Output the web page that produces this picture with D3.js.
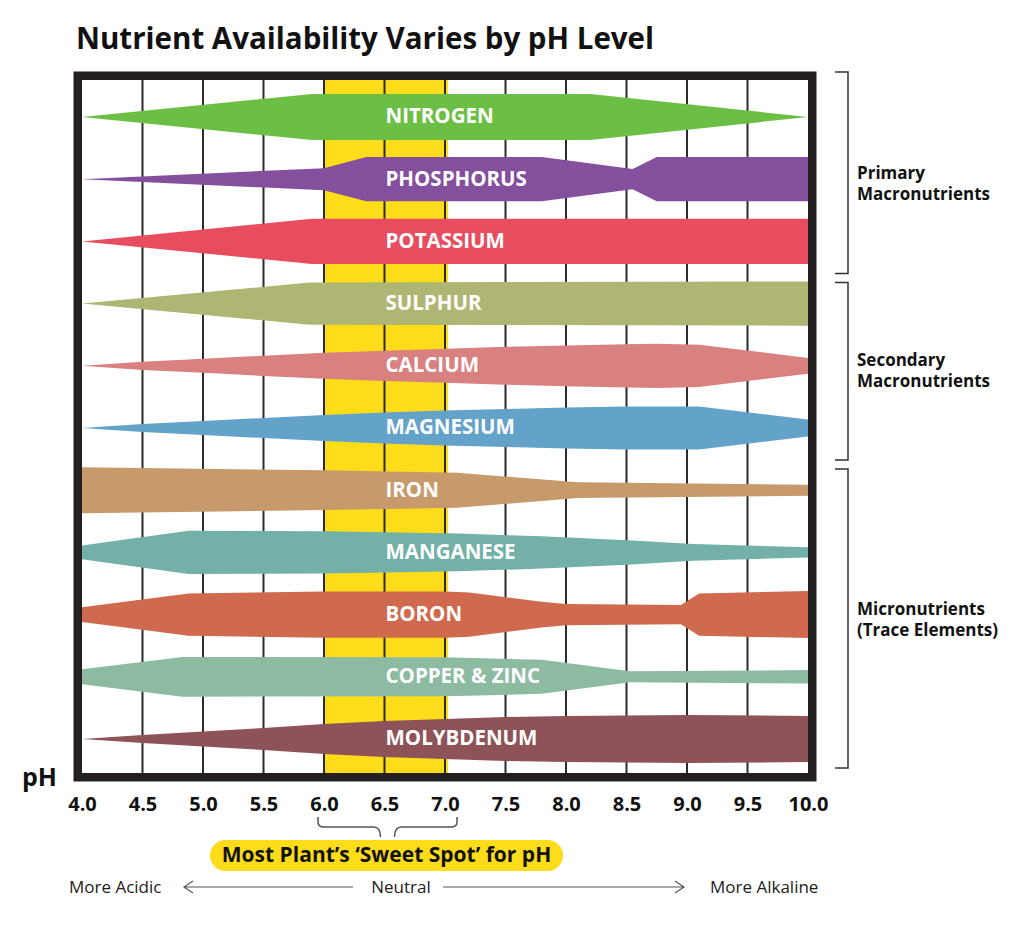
<!DOCTYPE html>
<html>
<head>
  <meta charset="utf-8">
  <title>Nutrient Availability Varies by pH Level</title>
  <script src="https://cdn.jsdelivr.net/npm/d3@7/dist/d3.min.js"></script>
  <style>
    body { margin: 0; background: #ffffff; }
    text { font-family: "Open Sans", sans-serif; }
    .tick text { font-size: 20px; font-weight: 700; fill: #111; }
  </style>
</head>
<body>
  <svg id="mainsvg" width="1024" height="927"></svg>
  <script>
    // nutrients, top to bottom
    const nutrients = ["NITROGEN", "PHOSPHORUS", "POTASSIUM", "SULPHUR", "CALCIUM", "MAGNESIUM",
      "IRON", "MANGANESE", "BORON", "COPPER & ZINC", "MOLYBDENUM"];
    const colors = ["#6cbf45", "#844f9d", "#e84c5f", "#afb573", "#d98080", "#64a3c9",
      "#c69a6a", "#72b0a8", "#cf6a4e", "#8cbba2", "#8d5358"];

    // availability profile per nutrient: pH breakpoints and relative availability (0-100)
    const phPoints = [
      [4.0, 5.9, 8.2, 10],
      [4.0, 6.0, 6.35, 7.8, 8.55, 8.75, 10],
      [4.0, 5.9, 10],
      [4.0, 5.88, 10],
      [4.0, 4.5, 5.0, 5.5, 6.0, 6.5, 7.0, 7.5, 8.0, 8.5, 8.75, 9.1, 10],
      [4.0, 4.5, 5.0, 5.5, 6.0, 6.5, 7.0, 7.5, 8.0, 8.5, 9.1, 10],
      [4.0, 6.0, 7.1, 8.1, 10],
      [4.0, 4.88, 6.0, 7.1, 7.8, 8.55, 9.05, 10],
      [4.0, 4.88, 6.0, 7.0, 7.2, 7.8, 8.0, 8.95, 9.1, 10],
      [4.0, 4.83, 7.0, 7.8, 8.53, 10],
      [4.0, 4.5, 5.0, 5.5, 6.0, 6.5, 7.0, 7.5, 8.0, 8.5, 9.0, 10]
    ];
    const availability = [
      [0, 96, 96, 0],
      [0, 46, 92, 92, 42, 92, 92],
      [0, 94, 94],
      [0, 88, 92],
      [0, 17, 29, 42, 54, 63, 71, 79, 85, 90, 92, 88, 33],
      [0, 17, 29, 42, 54, 65, 73, 79, 85, 90, 90, 35],
      [96, 83, 73, 33, 23],
      [29, 90, 88, 79, 67, 50, 35, 21],
      [31, 88, 96, 96, 92, 54, 44, 40, 88, 98],
      [31, 83, 81, 71, 23, 28],
      [0, 17, 31, 46, 63, 75, 83, 92, 96, 98, 100, 96]
    ];

    const phTicks = [4.0, 4.5, 5.0, 5.5, 6.0, 6.5, 7.0, 7.5, 8.0, 8.5, 9.0, 9.5, 10.0];
    const sweetSpot = [6.0, 7.0];
    const groups = [
      { lines: ["Primary", "Macronutrients"], first: "NITROGEN", last: "POTASSIUM" },
      { lines: ["Secondary", "Macronutrients"], first: "SULPHUR", last: "MAGNESIUM" },
      { lines: ["Micronutrients", "(Trace Elements)"], first: "IRON", last: "MOLYBDENUM" }
    ];

    const svg = d3.select('#mainsvg');
    const plot = { left: 82, right: 808, top: 80, bottom: 773 };

    const x = d3.scaleLinear().domain([4, 10]).range([plot.left, plot.right]);
    const y = d3.scalePoint().domain(nutrients).range([117, 739]);
    const half = d3.scaleLinear().domain([0, 100]).range([0, 24]);

    // title
    svg.append('text')
      .attr('x', 76).attr('y', 49)
      .style('font-size', '29.5px').style('font-weight', 700).attr('fill', '#111')
      .text('Nutrient Availability Varies by pH Level');

    // sweet spot band
    svg.append('rect')
      .attr('x', x(sweetSpot[0])).attr('y', plot.top)
      .attr('width', x(sweetSpot[1]) - x(sweetSpot[0]) + 3)
      .attr('height', plot.bottom - plot.top)
      .attr('fill', '#fddc1a');

    // grid lines
    svg.append('g').selectAll('line')
      .data(phTicks.slice(1, -1))
      .enter().append('line')
      .attr('x1', d => x(d)).attr('x2', d => x(d))
      .attr('y1', plot.top).attr('y2', plot.bottom)
      .attr('stroke', '#2b2b2b').attr('stroke-width', 2);

    // nutrient shapes
    const area = d3.area()
      .x(d => x(d.ph))
      .y0(d => d.cy - half(d.v))
      .y1(d => d.cy + half(d.v));

    const shapes = svg.append('g');
    nutrients.forEach((n, i) => {
      const pts = phPoints[i].map((ph, j) => ({ ph: ph, v: availability[i][j], cy: y(n) }));
      shapes.append('path')
        .attr('d', area(pts))
        .attr('fill', colors[i]);
      shapes.append('text')
        .attr('x', x(6.5) + 1).attr('y', y(n) - 1)
        .attr('dy', '0.36em')
        .style('font-size', '20.5px').style('font-weight', 700)
        .attr('fill', '#ffffff')
        .text(n);
    });

    // frame
    svg.append('rect')
      .attr('x', plot.left - 4.25).attr('y', plot.top - 4.25)
      .attr('width', plot.right - plot.left + 8.5)
      .attr('height', plot.bottom - plot.top + 8.5)
      .attr('fill', 'none').attr('stroke', '#231f20').attr('stroke-width', 8.5);

    // pH axis
    const xAxis = d3.axisBottom(x).tickValues(phTicks).tickFormat(d3.format('.1f')).tickSize(0).tickPadding(0);
    const axisG = svg.append('g').attr('transform', 'translate(0, 797)').call(xAxis);
    axisG.select('.domain').remove();

    svg.append('text')
      .attr('x', 22).attr('y', 786)
      .style('font-size', '25px').style('font-weight', 700).attr('fill', '#111')
      .text('pH');

    // brace under the sweet spot
    const bx0 = x(sweetSpot[0]) - 6, bx1 = x(sweetSpot[1]) + 12;
    const bmid = (bx0 + bx1) / 2;
    svg.append('path')
      .attr('d', `M${bx0},817 V822 Q${bx0},827 ${bx0 + 6},827 H${bmid - 14} Q${bmid - 7},827 ${bmid - 7},837
                  M${bx1},817 V822 Q${bx1},827 ${bx1 - 6},827 H${bmid + 14} Q${bmid + 7},827 ${bmid + 7},837`)
      .attr('fill', 'none').attr('stroke', '#555').attr('stroke-width', 1.5);

    svg.append('rect')
      .attr('x', 210).attr('y', 840).attr('width', 353).attr('height', 31).attr('rx', 15.5)
      .attr('fill', '#fddc1a');
    svg.append('text')
      .attr('x', 386.5).attr('y', 862).attr('text-anchor', 'middle')
      .style('font-size', '21px').style('font-weight', 700).attr('fill', '#111')
      .text('Most Plant\u2019s \u2018Sweet Spot\u2019 for pH');

    // acidity scale
    const scaleRow = svg.append('g').style('font-size', '17px').attr('fill', '#222');
    scaleRow.append('text').attr('x', 69).attr('y', 893).text('More Acidic');
    scaleRow.append('text').attr('x', 401).attr('y', 893).attr('text-anchor', 'middle').text('Neutral');
    scaleRow.append('text').attr('x', 710).attr('y', 893).text('More Alkaline');
    scaleRow.append('path')
      .attr('d', 'M193,881 L184,887 L193,893 M184,887 H353 M443,887 H684 M675,881 L684,887 L675,893')
      .attr('fill', 'none').attr('stroke', '#555').attr('stroke-width', 1.2);

    // group brackets
    const step = y.step();
    const brackets = svg.append('g');
    groups.forEach((g, i) => {
      const top = i === 0 ? plot.top - 8 : y(g.first) - step / 2 + 10;
      const bottom = i === groups.length - 1 ? plot.bottom - 5 : y(g.last) + step / 2 + 1;
      brackets.append('path')
        .attr('d', `M835,${top} H848 V${bottom} H835`)
        .attr('fill', 'none').attr('stroke', '#333').attr('stroke-width', 1.5);
      const c = (y(g.first) + y(g.last)) / 2 + 2;
      g.lines.forEach((l, k) => {
        brackets.append('text')
          .attr('x', 857).attr('y', c - 2 + k * 21)
          .style('font-size', '17px').style('font-weight', 700).attr('fill', '#111')
          .text(l);
      });
    });
  </script>
</body>
</html>
